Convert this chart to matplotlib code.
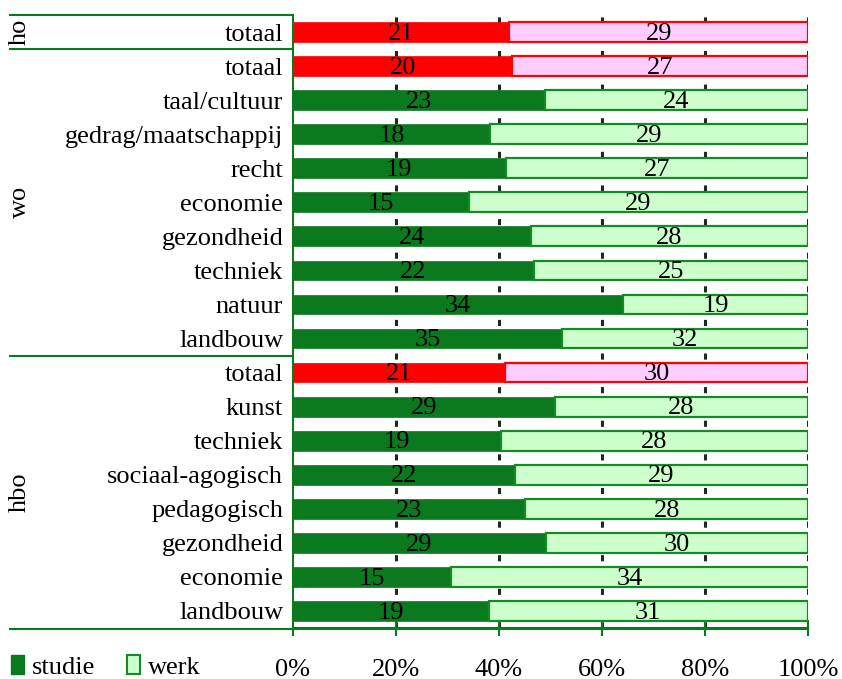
import numpy as np
import matplotlib
matplotlib.use("Agg")
import matplotlib.pyplot as plt
from matplotlib.patches import Patch
from matplotlib.transforms import blended_transform_factory

# ── data (top to bottom) ─────────────────────────────────────
GROUPS = ["ho", "wo", "hbo"]
CATEGORIES = [
    "totaal",
    "totaal", "taal/cultuur", "gedrag/maatschappij", "recht", "economie",
    "gezondheid", "techniek", "natuur", "landbouw",
    "totaal", "kunst", "techniek", "sociaal-agogisch", "pedagogisch",
    "gezondheid", "economie", "landbouw",
]
GROUP_OF = ["ho"] + ["wo"] * 9 + ["hbo"] * 8
STUDIE = [21, 20, 23, 18, 19, 15, 24, 22, 34, 35, 21, 29, 19, 22, 23, 29, 15, 19]
WERK = [29, 27, 24, 29, 27, 29, 28, 25, 19, 32, 30, 28, 28, 29, 28, 30, 34, 31]
TICKS = [0, 20, 40, 60, 80, 100]

# ── style ────────────────────────────────────────────────────
plt.rcParams["font.family"] = ["Liberation Serif", "DejaVu Serif"]
DARK_GREEN = "#0b7a1e"
LIGHT_GREEN = "#ccffcc"
EDGE_GREEN = "#178a28"
RED = "#ff0000"
PINK = "#ffccff"
FS = 19

studie = np.array(STUDIE, dtype=float)
werk = np.array(WERK, dtype=float)
total = studie + werk
p_studie = studie / total * 100
p_werk = werk / total * 100
y = np.arange(len(CATEGORIES))
is_total = np.array([c == "totaal" for c in CATEGORIES])

fig = plt.figure(figsize=(8.42, 6.79), dpi=100)
ax = fig.add_axes([293 / 842, 1 - 628 / 679, 515 / 842, 613 / 679])

c1 = [RED if t else DARK_GREEN for t in is_total]
c2 = [PINK if t else LIGHT_GREEN for t in is_total]
e2 = [RED if t else EDGE_GREEN for t in is_total]

h = 0.58
ax.barh(y, p_studie, height=h, color=c1, edgecolor=c1, linewidth=0.5, zorder=2)
ax.barh(y, p_werk, left=p_studie, height=h, color=c2, edgecolor=e2,
        linewidth=1.6, zorder=2)

for i in range(len(y)):
    ax.text(p_studie[i] / 2, y[i] + 0.05, f"{STUDIE[i]}", ha="center",
            va="center", fontsize=FS, color="black", zorder=3)
    ax.text(p_studie[i] + p_werk[i] / 2, y[i] + 0.05, f"{WERK[i]}",
            ha="center", va="center", fontsize=FS, color="black", zorder=3)

ax.set_xlim(0, 100)
ax.set_ylim(len(y) - 0.5, -0.5)
ax.set_xticks(TICKS)
ax.set_xticklabels([f"{t}%" for t in TICKS], fontsize=FS)
ax.set_yticks(y)
ax.set_yticklabels(CATEGORIES, fontsize=FS)
ax.tick_params(axis="y", length=0, pad=7)
ax.tick_params(axis="x", direction="inout", length=12, width=1.5,
               color=DARK_GREEN, pad=16)

for x in TICKS[1:]:
    ax.axvline(x, color="#1c2a1c", linestyle=(0, (2, 3.5)), linewidth=2.2,
               zorder=1)

for s in ["top", "right"]:
    ax.spines[s].set_visible(False)
for s in ["left", "bottom"]:
    ax.spines[s].set_color(DARK_GREEN)
    ax.spines[s].set_linewidth(1.5)

# group separators extending into the label area
trans = blended_transform_factory(ax.transAxes, ax.transData)
x_left = (10 - 293) / 515
seps = [-0.5, 0.5, 9.5]
for s in seps:
    ax.plot([x_left, 0], [s, s], transform=trans, color=DARK_GREEN,
            linewidth=1.5, clip_on=False)
ax.plot([x_left, 1], [len(y) - 0.5 + 0.04] * 2, transform=trans,
        color=DARK_GREEN, linewidth=1.5, clip_on=False)

# group labels
x_grp = (20 - 293) / 515
for g in GROUPS:
    idx = [i for i, gg in enumerate(GROUP_OF) if gg == g]
    mid = (idx[0] + idx[-1]) / 2
    ax.text(x_grp, mid, g, transform=trans, rotation=90, ha="center",
            va="center", fontsize=FS)

# legend
handles = [Patch(facecolor=DARK_GREEN, edgecolor=DARK_GREEN),
           Patch(facecolor=LIGHT_GREEN, edgecolor=EDGE_GREEN, linewidth=1.5)]
fig.legend(handles, ["studie", "werk"], loc="center left",
           bbox_to_anchor=(0.0, 1 - 667 / 679), ncol=2, frameon=False,
           fontsize=FS, handlelength=0.5, handleheight=0.75, handletextpad=0.3,
           columnspacing=1.2, borderaxespad=0.2, borderpad=0.2)

fig.savefig("out.png", dpi=100)
